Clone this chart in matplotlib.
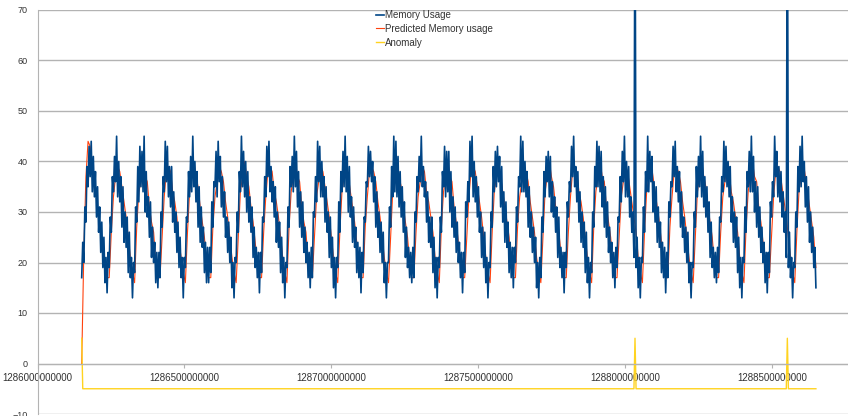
import numpy as np
import matplotlib.pyplot as plt
from matplotlib.ticker import MultipleLocator, FuncFormatter

# hourly samples, epoch milliseconds
start_time = 1286150400000
step = 3600000
pred_step = 7200000

# memory usage, one row per day (24 hourly readings)
memory_usage = [
    [17, 24, 20, 31, 28, 39, 35, 43, 37, 44, 34, 41, 33, 38, 29, 35, 26, 31, 22, 28, 19, 25, 16, 21],
    [14, 22, 19, 29, 26, 37, 34, 41, 36, 45, 33, 40, 32, 37, 27, 35, 24, 30, 23, 29, 18, 26, 17, 21],
    [13, 20, 18, 31, 28, 39, 32, 43, 35, 42, 34, 45, 30, 38, 29, 33, 25, 32, 21, 27, 20, 24, 16, 22],
    [15, 22, 17, 30, 27, 37, 34, 44, 36, 43, 33, 39, 31, 39, 28, 34, 26, 30, 22, 28, 19, 25, 17, 21],
    [13, 21, 19, 29, 28, 38, 33, 41, 34, 45, 35, 40, 32, 38, 27, 35, 24, 31, 23, 27, 18, 24, 16, 23],
    [16, 23, 18, 32, 27, 36, 35, 42, 33, 44, 36, 41, 31, 37, 29, 34, 25, 29, 22, 28, 20, 25, 15, 20],
    [13, 21, 20, 30, 26, 38, 34, 45, 35, 42, 33, 40, 30, 38, 28, 33, 26, 31, 21, 27, 19, 23, 17, 22],
    [14, 22, 18, 29, 28, 37, 33, 43, 37, 44, 34, 39, 32, 36, 29, 35, 24, 30, 23, 28, 18, 25, 16, 21],
    [13, 20, 19, 31, 27, 39, 35, 41, 34, 45, 35, 42, 31, 38, 27, 34, 25, 32, 22, 27, 20, 24, 17, 22],
    [15, 23, 17, 30, 29, 37, 32, 44, 36, 43, 33, 40, 33, 37, 28, 35, 26, 30, 21, 29, 19, 25, 15, 21],
    [13, 21, 19, 32, 26, 38, 34, 42, 35, 45, 34, 41, 30, 39, 29, 33, 24, 31, 23, 27, 18, 24, 17, 23],
    [14, 22, 18, 29, 28, 36, 35, 43, 37, 42, 36, 40, 32, 37, 27, 34, 25, 30, 22, 28, 20, 26, 16, 20],
    [13, 20, 20, 31, 27, 39, 33, 45, 34, 44, 33, 41, 31, 38, 29, 35, 26, 32, 21, 27, 19, 23, 17, 22],
    [16, 23, 17, 30, 28, 37, 34, 41, 36, 45, 35, 39, 33, 36, 28, 34, 24, 29, 23, 29, 18, 25, 15, 21],
    [13, 21, 19, 29, 26, 38, 35, 43, 33, 42, 34, 42, 30, 38, 27, 33, 25, 31, 22, 28, 20, 24, 17, 22],
    [14, 22, 18, 32, 29, 36, 32, 44, 37, 45, 33, 40, 32, 37, 29, 35, 26, 30, 21, 27, 19, 26, 16, 21],
    [13, 20, 19, 30, 27, 39, 34, 42, 35, 43, 36, 41, 31, 39, 28, 34, 24, 32, 23, 28, 18, 24, 17, 23],
    [15, 23, 20, 31, 28, 37, 35, 45, 34, 44, 34, 40, 33, 38, 27, 35, 25, 30, 22, 27, 20, 25, 15, 20],
    [13, 21, 17, 29, 26, 38, 33, 41, 36, 42, 33, 41, 30, 36, 29, 33, 26, 31, 21, 29, 19, 23, 17, 22],
    [14, 22, 19, 32, 29, 36, 34, 43, 37, 45, 35, 39, 32, 38, 28, 34, 24, 30, 23, 28, 18, 26, 16, 21],
    [13, 20, 18, 30, 27, 39, 35, 44, 35, 43, 34, 42, 31, 37, 27, 35, 25, 32, 22, 27, 20, 24, 17, 22],
    [15, 23, 19, 29, 28, 37, 32, 42, 36, 45, 33, 40, 33, 39, 29, 33, 26, 30, 21, 100, 19, 25, 15, 21],
    [13, 21, 20, 31, 26, 38, 34, 45, 34, 42, 36, 41, 30, 36, 28, 35, 24, 31, 23, 28, 18, 24, 17, 23],
    [14, 22, 17, 32, 29, 36, 35, 43, 37, 44, 34, 39, 32, 38, 27, 34, 25, 29, 22, 27, 20, 26, 16, 20],
    [13, 20, 19, 30, 27, 39, 33, 41, 35, 45, 33, 42, 31, 37, 29, 35, 26, 32, 21, 28, 19, 23, 17, 22],
    [16, 23, 18, 29, 28, 37, 34, 44, 36, 43, 35, 40, 33, 39, 28, 33, 24, 30, 23, 29, 18, 25, 15, 21],
    [13, 21, 20, 31, 26, 38, 35, 42, 34, 45, 34, 41, 30, 36, 27, 35, 25, 31, 22, 27, 20, 24, 16, 22],
    [14, 22, 18, 32, 29, 36, 33, 45, 37, 42, 33, 39, 32, 38, 29, 34, 26, 30, 21, 100, 19, 26, 17, 21],
    [13, 20, 19, 30, 27, 39, 34, 43, 35, 45, 36, 40, 31, 37, 28, 35, 24, 30, 22, 27, 19, 23, 15],
]

# predicted memory usage, one value every 2 hours
predicted_usage = [
    [0, 22, 37, 44, 43, 40, 36, 33, 29, 26, 22, 19],
    [17, 17, 26, 33, 37, 39, 38, 35, 32, 29, 25, 21],
    [18, 16, 27, 34, 36, 40, 37, 36, 31, 28, 26, 20],
    [17, 17, 25, 33, 38, 39, 38, 34, 32, 29, 24, 21],
    [18, 16, 26, 34, 37, 40, 37, 35, 31, 28, 25, 20],
    [17, 17, 27, 33, 36, 39, 38, 36, 32, 29, 25, 21],
    [18, 16, 25, 34, 37, 40, 37, 35, 31, 28, 24, 20],
    [17, 17, 26, 33, 38, 39, 38, 34, 32, 29, 25, 21],
    [18, 16, 27, 34, 37, 40, 37, 36, 31, 28, 26, 20],
    [17, 17, 25, 33, 36, 39, 38, 35, 32, 29, 25, 21],
    [18, 16, 26, 34, 37, 40, 37, 34, 31, 28, 24, 20],
    [17, 17, 27, 33, 38, 39, 38, 36, 32, 29, 25, 21],
    [18, 16, 25, 34, 37, 40, 37, 35, 31, 28, 25, 20],
    [17, 17, 26, 33, 36, 39, 38, 34, 32, 29, 26, 21],
    [18, 16, 27, 34, 37, 40, 37, 36, 31, 28, 24, 20],
    [17, 17, 25, 33, 38, 39, 38, 35, 32, 29, 25, 21],
    [18, 16, 26, 34, 37, 40, 37, 34, 31, 28, 25, 20],
    [17, 17, 27, 33, 36, 39, 38, 36, 32, 29, 26, 21],
    [18, 16, 25, 34, 37, 40, 37, 35, 31, 28, 24, 20],
    [17, 17, 26, 33, 38, 39, 38, 34, 32, 29, 25, 21],
    [18, 16, 27, 34, 37, 40, 37, 36, 31, 28, 25, 20],
    [17, 17, 25, 33, 36, 39, 38, 35, 32, 29, 26, 21],
    [18, 16, 26, 34, 37, 40, 37, 34, 31, 28, 24, 20],
    [17, 17, 27, 33, 38, 39, 38, 36, 32, 29, 25, 21],
    [18, 16, 25, 34, 37, 40, 37, 35, 31, 28, 25, 20],
    [17, 17, 26, 33, 36, 39, 38, 34, 32, 29, 26, 21],
    [18, 16, 27, 34, 37, 40, 37, 36, 31, 28, 24, 20],
    [17, 17, 25, 33, 38, 39, 38, 35, 32, 29, 25, 21],
    [18, 16, 26, 34, 37, 40, 37, 34, 31, 28, 25, 19],
]

# anomaly series sits at -5 and jumps to 5 at flagged samples
anomaly_level = -5
anomaly_flag = 5
anomaly_index = [0, 523, 667]

x_min, x_max = 1286000000000, 1288758000000
y_min, y_max = -10, 70

mem = np.concatenate([np.array(r, dtype=float) for r in memory_usage])
t = start_time + step * np.arange(len(mem))
pred = np.concatenate([np.array(r, dtype=float) for r in predicted_usage])
tp = start_time + pred_step * np.arange(len(pred))
anom = np.full(len(mem), float(anomaly_level))
anom[anomaly_index] = anomaly_flag

grey = '#b3b3b3'
txt = '#333333'

fig = plt.figure(figsize=(8.48, 4.16), dpi=100)
ax = fig.add_axes([37.5 / 848, 2 / 416, 1 - 37.5 / 848, 404 / 416])

ax.plot(t, mem, color='#004586', lw=1.2, label='Memory Usage', zorder=3)
ax.plot(tp, pred, color='#ff420e', lw=0.8, label='Predicted Memory usage', zorder=2)
ax.plot(t, anom, color='#ffd320', lw=1.0, label='Anomaly', zorder=2)

ax.set_xlim(x_min, x_max)
ax.set_ylim(y_min, y_max)

ax.yaxis.set_major_locator(MultipleLocator(10))
ax.xaxis.set_major_locator(MultipleLocator(500000000))
ax.xaxis.set_major_formatter(FuncFormatter(lambda v, p: str(int(round(v)))))

ax.yaxis.grid(True, color=grey, lw=1)
ax.set_axisbelow(True)
for s in ['top', 'right']:
    ax.spines[s].set_visible(False)
ax.spines['left'].set_color(grey)
ax.spines['bottom'].set_color(grey)
ax.spines['bottom'].set_position(('data', 0))

ax.tick_params(axis='y', length=0, pad=7, labelsize=6.5, labelcolor=txt)
ax.tick_params(axis='x', direction='out', length=3, color=grey, pad=4, labelsize=7, labelcolor=txt)
for lab in ax.get_xticklabels():
    lab.set_family(['Liberation Sans Narrow', 'Liberation Sans', 'DejaVu Sans'])
for lab in ax.get_yticklabels():
    lab.set_family(['Liberation Sans', 'DejaVu Sans'])

leg = fig.legend(loc='upper left', bbox_to_anchor=(376 / 848, 1 - 10 / 416),
                 frameon=False, handlelength=0.8, handletextpad=0.1,
                 labelspacing=0.4, borderpad=0, borderaxespad=0,
                 prop={'family': ['Liberation Sans', 'DejaVu Sans'], 'size': 7})
for tx in leg.get_texts():
    tx.set_color(txt)

fig.savefig('out.png', dpi=100)
